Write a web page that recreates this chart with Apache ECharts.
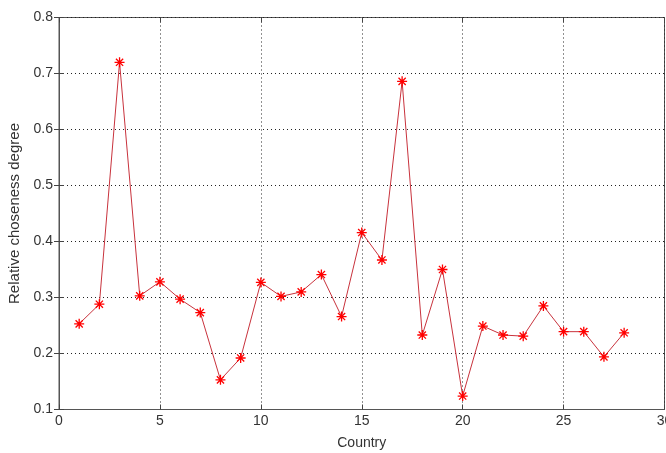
<!DOCTYPE html>
<html>
<head>
<meta charset="utf-8">
<script src="https://cdn.jsdelivr.net/npm/echarts@6/dist/echarts.min.js"></script>
<style>html,body{margin:0;padding:0;background:#fff}#c{width:666px;height:453px}</style>
</head>
<body>
<div id="c"></div>
<script>
const countries = [1,2,3,4,5,6,7,8,9,10,11,12,13,14,15,16,17,18,19,20,21,22,23,24,25,26,27,28];
const degree = [0.253,0.288,0.720,0.303,0.328,0.297,0.273,0.153,0.192,0.327,0.302,0.310,0.341,0.266,0.416,0.367,0.686,0.233,0.350,0.124,0.249,0.233,0.231,0.285,0.239,0.239,0.194,0.237];
const xTicks = [0,5,10,15,20,25,30];
const yTicks = [0.1,0.2,0.3,0.4,0.5,0.6,0.7,0.8];

const chart = echarts.init(document.getElementById('c'));
const font = 'Liberation Sans, Arial, sans-serif';
const star = 'path://M0,-5L0,5M-5,0L5,0M-3.6,-3.6L3.6,3.6M-3.6,3.6L3.6,-3.6';
const gridLine = {show:true, lineStyle:{color:'#222', type:[1,3], width:1}};
const tick = {show:true, inside:true, length:5, lineStyle:{color:'#444'}};
chart.setOption({
  animation:false,
  grid:{left:59, right:1.5, top:17.5, bottom:43.5, show:true, borderColor:'#555', borderWidth:1, outerBoundsMode:'none', containLabel:false},
  xAxis:[{
    type:'value', min:0, max:30, interval:5,
    name:'Country', nameLocation:'middle', nameGap:27,
    nameTextStyle:{fontFamily:font, fontSize:14, color:'#333'},
    axisLine:{show:true, lineStyle:{color:'#555'}},
    axisTick:tick, splitLine:gridLine,
    axisLabel:{fontFamily:font, fontSize:14, color:'#333', margin:5}
  },{
    type:'value', min:0, max:30, interval:5, position:'top',
    axisLine:{show:false}, axisTick:tick, splitLine:{show:false}, axisLabel:{show:false}
  }],
  yAxis:[{
    type:'value', min:0.1, max:0.8, interval:0.1,
    name:'Relative choseness degree', nameLocation:'middle', nameGap:32,
    nameTextStyle:{fontFamily:font, fontSize:15, color:'#333'},
    axisLine:{show:true, lineStyle:{color:'#555'}},
    axisTick:tick, splitLine:gridLine,
    axisLabel:{fontFamily:font, fontSize:14, color:'#333', margin:6, formatter:v=>v.toFixed(1)}
  },{
    type:'value', min:0.1, max:0.8, interval:0.1, position:'right',
    axisLine:{show:true, lineStyle:{color:'#555'}}, axisTick:tick, splitLine:{show:false}, axisLabel:{show:false}
  }],
  series:[{
    type:'line',
    data:countries.map((c,i)=>[c,degree[i]]),
    symbol:star, symbolSize:10,
    lineStyle:{color:'#c8323c', width:1},
    itemStyle:{color:'#ff0000', borderColor:'#ff0000', borderWidth:1.3},
    z:3
  }]
});
</script>
</body>
</html>
